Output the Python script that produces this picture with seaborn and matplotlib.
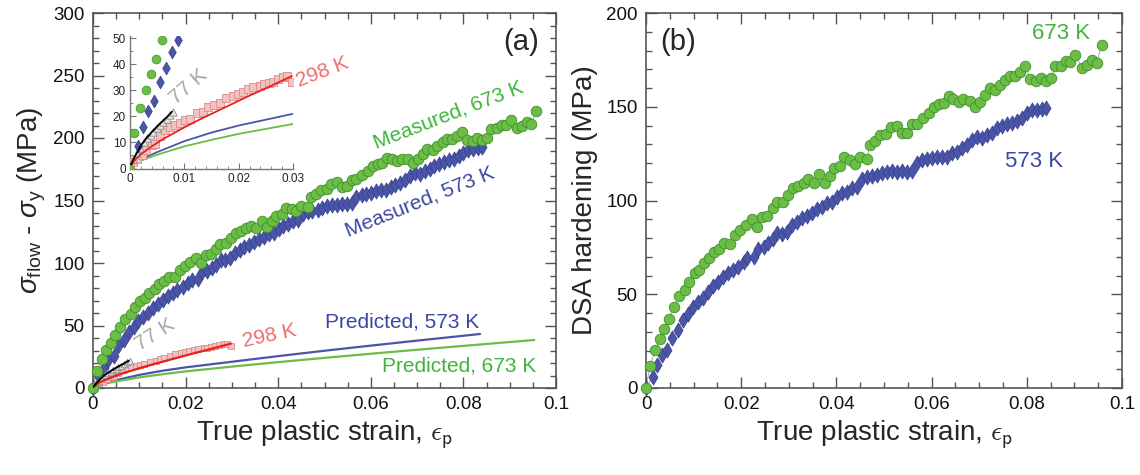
import numpy as np
import pandas as pd
import seaborn as sns
import matplotlib
matplotlib.use("Agg")
import matplotlib.pyplot as plt
from matplotlib.ticker import MultipleLocator, FuncFormatter

# ---------------- data ----------------
strain_673 = [0, 0.0008, 0.0019, 0.0029, 0.0038, 0.0048, 0.0059, 0.0070, 0.0081, 0.0091,
              0.0102, 0.0112, 0.0121, 0.0133, 0.0143, 0.0154, 0.0164, 0.0177, 0.0187, 0.0198,
              0.0210, 0.0222, 0.0233, 0.0243, 0.0254, 0.0266, 0.0275, 0.0287, 0.0298, 0.0308,
              0.0320, 0.0331, 0.0341, 0.0352, 0.0364, 0.0376, 0.0387, 0.0396, 0.0408, 0.0416,
              0.0429, 0.0439, 0.0450, 0.0464, 0.0471, 0.0481, 0.0492, 0.0505, 0.0514, 0.0527,
              0.0537, 0.0548, 0.0559, 0.0569, 0.0581, 0.0594, 0.0604, 0.0615, 0.0625, 0.0636,
              0.0646, 0.0657, 0.0667, 0.0680, 0.0692, 0.0702, 0.0713, 0.0722, 0.0734, 0.0744,
              0.0755, 0.0765, 0.0776, 0.0786, 0.0797, 0.0807, 0.0820, 0.0830, 0.0841, 0.0851,
              0.0860, 0.0872, 0.0883, 0.0891, 0.0902, 0.0916, 0.0926, 0.0937, 0.0947, 0.0957]
dsa_673 = [0, 11.6, 20.1, 26.4, 31.7, 37.0, 43.3, 49.0, 52.2, 56.6,
           61.1, 62.9, 66.8, 69.1, 72.7, 74.4, 77.5, 76.6, 81.6, 84.2,
           86.9, 89.9, 85.7, 91.4, 91.7, 95.8, 99.4, 99.4, 102.9, 106.5,
           107.9, 109.5, 111.5, 109.2, 114.0, 109.2, 113.3, 117.5, 118.6, 123.1,
           121.6, 119.5, 123.1, 122.0, 129.6, 132.0, 135.0, 135.4, 139.1, 139.8,
           135.9, 135.9, 140.9, 140.9, 143.9, 146.6, 150.1, 151.6, 151.9, 155.5,
           154.2, 152.8, 154.1, 153.3, 149.8, 152.3, 156.4, 159.9, 159.0, 161.7,
           164.4, 166.5, 166.2, 168.8, 171.5, 164.7, 163.5, 165.3, 163.9, 165.3,
           171.5, 171.9, 174.2, 173.8, 177.7, 170.6, 172.4, 175.1, 173.3, 183.1]
meas_673 = [0, 13.6, 23.1, 30.2, 36.1, 42.1, 49.2, 55.6, 59.5, 64.5,
            69.7, 72.0, 76.3, 79.2, 83.3, 85.6, 89.1, 88.8, 94.3, 97.4,
            100.6, 104.0, 100.3, 106.3, 107.1, 111.6, 115.6, 116.0, 119.9, 123.9,
            125.7, 127.7, 130.0, 128.1, 133.3, 128.9, 133.4, 138.0, 139.5, 144.2,
            143.2, 141.4, 145.4, 144.8, 152.6, 155.4, 158.7, 159.6, 163.6, 164.7,
            161.1, 161.5, 166.8, 167.2, 170.6, 173.7, 177.5, 179.4, 180.0, 184.0,
            183.0, 181.9, 183.5, 183.2, 180.0, 182.9, 187.3, 191.1, 190.5, 193.5,
            196.6, 199.0, 199.0, 201.9, 204.9, 198.4, 197.6, 199.8, 198.7, 200.4,
            206.9, 207.7, 210.3, 210.2, 214.4, 207.8, 209.9, 213.0, 211.5, 221.6]

strain_573 = [0, 0.0014, 0.0024, 0.0033, 0.0045, 0.0055, 0.0067, 0.0077, 0.0088, 0.0098,
              0.0109, 0.0119, 0.0130, 0.0140, 0.0151, 0.0161, 0.0172, 0.0182, 0.0194, 0.0205,
              0.0213, 0.0226, 0.0236, 0.0247, 0.0257, 0.0266, 0.0276, 0.0285, 0.0296, 0.0306,
              0.0317, 0.0327, 0.0338, 0.0348, 0.0359, 0.0369, 0.0380, 0.0390, 0.0401, 0.0411,
              0.0422, 0.0432, 0.0443, 0.0453, 0.0464, 0.0474, 0.0485, 0.0495, 0.0506, 0.0516,
              0.0527, 0.0537, 0.0548, 0.0559, 0.0569, 0.0580, 0.0590, 0.0601, 0.0611, 0.0622,
              0.0632, 0.0643, 0.0653, 0.0664, 0.0674, 0.0685, 0.0695, 0.0706, 0.0716, 0.0727,
              0.0737, 0.0748, 0.0758, 0.0769, 0.0779, 0.0790, 0.0800, 0.0811, 0.0821, 0.0832,
              0.0841]
dsa_573 = [0, 5.9, 12.1, 17.5, 20.1, 26.7, 30.8, 36.2, 39.7, 43.3,
           46.0, 48.1, 51.3, 54.3, 56.6, 59.3, 61.4, 63.2, 64.6, 67.3,
           69.1, 70.0, 74.4, 75.3, 77.1, 79.3, 82.5, 81.9, 83.0, 86.9,
           88.7, 90.5, 91.7, 93.5, 95.3, 96.7, 98.5, 99.4, 102.1, 103.8,
           104.7, 106.5, 107.0, 111.3, 112.7, 113.1, 113.6, 114.5, 115.4, 115.8,
           115.4, 115.8, 115.4, 115.9, 119.9, 121.6, 122.0, 122.5, 123.1, 123.4,
           123.4, 125.2, 126.1, 127.9, 129.6, 132.3, 134.1, 133.2, 135.0, 136.2,
           138.6, 139.5, 140.9, 141.6, 142.5, 143.9, 146.6, 148.4, 148.4, 148.7,
           149.2]
meas_573 = [0, 8.5, 16.0, 22.2, 25.9, 33.4, 38.5, 44.8, 49.2, 53.6,
            57.1, 59.8, 63.8, 67.4, 70.5, 73.7, 76.4, 78.8, 80.8, 84.0,
            86.2, 87.6, 92.5, 93.9, 96.2, 98.8, 102.4, 102.2, 103.8, 108.2,
            110.5, 112.7, 114.4, 116.7, 119.0, 120.8, 123.1, 124.4, 127.6, 129.8,
            131.2, 133.4, 134.4, 139.1, 141.0, 141.8, 142.7, 144.1, 145.4, 146.3,
            146.3, 147.1, 147.2, 148.1, 152.6, 154.7, 155.5, 156.4, 157.4, 158.2,
            158.6, 160.8, 162.1, 164.4, 166.5, 169.6, 171.8, 171.3, 173.5, 175.1,
            177.9, 179.3, 181.1, 182.2, 183.5, 185.3, 188.4, 190.6, 191.0, 191.7,
            192.5]

pred573_strain = [0, 0.001, 0.002, 0.005, 0.01, 0.015, 0.02, 0.03, 0.04, 0.05, 0.06, 0.07, 0.0836]
pred573_val = [0.5, 2.4, 3.5, 6.3, 10.5, 13.8, 16.5, 21.0, 25.5, 29.8, 33.9, 37.9, 43.2]
pred673_strain = [0, 0.001, 0.002, 0.005, 0.01, 0.015, 0.02, 0.03, 0.04, 0.05, 0.06, 0.07, 0.08, 0.0953]
pred673_val = [0.5, 2.0, 3.0, 5.3, 8.5, 11.0, 13.3, 17.1, 20.7, 24.1, 27.4, 30.6, 33.7, 38.4]

fit298_strain = [0, 0.001, 0.002, 0.004, 0.006, 0.008, 0.010, 0.013, 0.016, 0.019, 0.022, 0.025, 0.0298]
fit298_val = [0.5, 3.5, 5.5, 8.5, 11.2, 13.5, 15.8, 19.0, 22.0, 25.0, 28.0, 30.8, 35.5]
data298_strain = [0.0006, 0.00135, 0.00215, 0.0030, 0.0040, 0.0046, 0.0055, 0.0065, 0.0074, 0.0083,
                  0.0092, 0.0101, 0.0111, 0.0124, 0.0135, 0.0144, 0.0154, 0.0166, 0.0177, 0.0189,
                  0.0198, 0.0208, 0.0218, 0.0227, 0.0239, 0.0247, 0.0255, 0.0263, 0.0272, 0.0282,
                  0.0289, 0.0298]
data298_val = [2.6, 3.8, 5.1, 7.1, 9.0, 9.6, 12.4, 14.7, 16.0, 16.7,
               17.6, 18.8, 19.2, 21.2, 21.8, 23.5, 24.4, 25.3, 26.9, 27.8,
               28.8, 29.5, 30.4, 31.2, 31.7, 32.4, 32.7, 33.3, 34.2, 35.3,
               35.6, 33.3]

fit77_strain = [0, 0.0005, 0.001, 0.002, 0.003, 0.004, 0.005, 0.006, 0.007, 0.0077]
fit77_val = [0.6, 3.0, 5.0, 8.8, 11.6, 14.0, 16.2, 18.2, 20.2, 21.8]
data77_strain = [0.0006, 0.0012, 0.0018, 0.0025, 0.0031, 0.0038, 0.0043, 0.0049, 0.0055, 0.0061,
                 0.0068, 0.0074, 0.0080]
data77_val = [3.8, 5.8, 7.7, 10.3, 11.9, 12.8, 14.1, 15.4, 16.7, 17.9, 19.2, 20.5, 21.8]

# ---------------- style ----------------
sns.set_style("ticks")
plt.rcParams['font.family'] = ['Liberation Sans', 'DejaVu Sans']
plt.rcParams['mathtext.fontset'] = 'custom'
plt.rcParams['mathtext.rm'] = 'Liberation Sans'
plt.rcParams['mathtext.it'] = 'Liberation Sans:italic'
plt.rcParams['mathtext.fallback'] = 'cm'

GREEN = '#6cbd45'
GREEN_E = '#3f8f2a'
GREEN_T = '#3db53d'
BLUE = '#4b55a8'
BLUE_E = '#363f8e'
BLUE_T = '#3b47a3'
PINK_F = '#f4c0c0'
PINK_E = '#d98c8c'
PINK_T = '#f26d6d'
RED = '#e8201e'
GRAY_T = '#a6a6a6'
FRAME = '#555555'

fig = plt.figure(figsize=(11.4, 4.75), dpi=100)
axa = fig.add_axes([93/1140, 1-388/475, (556-93)/1140, (388-13)/475])
axb = fig.add_axes([646/1140, 1-388/475, (1122-646)/1140, (388-13)/475])

fmt_x = FuncFormatter(lambda v, p: f'{v:g}')


def style_main(ax):
    ax.set_xlim(0, 0.1)
    ax.xaxis.set_major_locator(MultipleLocator(0.02))
    ax.xaxis.set_minor_locator(MultipleLocator(0.005))
    ax.yaxis.set_major_locator(MultipleLocator(50))
    ax.yaxis.set_minor_locator(MultipleLocator(10))
    ax.xaxis.set_major_formatter(fmt_x)
    ax.tick_params(which='both', direction='in', top=True, right=True,
                   color=FRAME, width=1.0, labelsize=13.5, labelcolor='#111111')
    ax.tick_params(which='major', length=8, pad=6)
    ax.tick_params(which='minor', length=4)
    for s in ax.spines.values():
        s.set_color(FRAME)
        s.set_linewidth(1.2)
    ax.set_xlabel(r'True plastic strain, $\epsilon_{\mathsf{p}}$', fontsize=20, labelpad=4,
                  math_fontfamily='cm')


def connect(ax, x, y, z=2):
    sns.lineplot(x=x, y=y, ax=ax, color='#9a9a9a', lw=0.6, sort=False,
                 estimator=None, zorder=z)


# ---------------- panel (a) ----------------
sns.lineplot(x=pred573_strain, y=pred573_val, ax=axa, color=BLUE, lw=1.6, estimator=None, zorder=3)
sns.lineplot(x=pred673_strain, y=pred673_val, ax=axa, color=GREEN, lw=1.6, estimator=None, zorder=3)
connect(axa, strain_673, meas_673)
connect(axa, strain_573, meas_573)
sns.scatterplot(x=strain_573, y=meas_573, ax=axa, marker='d', s=60, color=BLUE,
                edgecolor=BLUE_E, linewidth=0.5, zorder=4, clip_on=False)
sns.scatterplot(x=strain_673, y=meas_673, ax=axa, marker='o', s=58, color=GREEN,
                edgecolor=GREEN_E, linewidth=0.6, zorder=5, clip_on=False)
sns.scatterplot(x=data298_strain, y=data298_val, ax=axa, marker='s', s=22, color=PINK_F,
                edgecolor=PINK_E, linewidth=0.6, zorder=4)
sns.lineplot(x=fit298_strain, y=fit298_val, ax=axa, color=RED, lw=1.6, estimator=None, zorder=6)
sns.scatterplot(x=data77_strain, y=data77_val, ax=axa, marker='^', s=22, color='#e6e6e6',
                edgecolor='#8a8a8a', linewidth=0.6, zorder=4)
sns.lineplot(x=fit77_strain, y=fit77_val, ax=axa, color='black', lw=1.4, estimator=None, zorder=6)
style_main(axa)
axa.set_ylim(0, 300)
axa.set_ylabel(r'$\sigma_{\mathrm{flow}}$ - $\sigma_{\mathrm{y}}$ (MPa)', fontsize=20, labelpad=4)

axa.text(0.0925, 277, '(a)', fontsize=21, ha='center', va='center')
axa.text(0.0768, 218, 'Measured, 673 K', fontsize=15, color=GREEN_T, rotation=21,
         ha='center', va='center')
axa.text(0.0705, 149, 'Measured, 573 K', fontsize=15, color=BLUE_T, rotation=22,
         ha='center', va='center')
axa.text(0.0668, 52.5, 'Predicted, 573 K', fontsize=15, color=BLUE_T, ha='center', va='center')
axa.text(0.0791, 17.5, 'Predicted, 673 K', fontsize=15, color=GREEN_T, ha='center', va='center')
axa.text(0.0382, 42.0, '298 K', fontsize=15, color=PINK_T, rotation=12, ha='center', va='center')
axa.text(0.0134, 42.5, '77 K', fontsize=15, color=GRAY_T, rotation=33, ha='center', va='center')

# inset
axi = fig.add_axes([130/1140, 1-168.5/475, (293-130)/1140, (168.5-35.7)/475])
axi.set_facecolor('none')
sns.lineplot(x=pred573_strain, y=pred573_val, ax=axi, color=BLUE, lw=1.3, estimator=None, zorder=3)
sns.lineplot(x=pred673_strain, y=pred673_val, ax=axi, color=GREEN, lw=1.3, estimator=None, zorder=3)
sns.scatterplot(x=data298_strain, y=data298_val, ax=axi, marker='s', s=26, color=PINK_F,
                edgecolor=PINK_E, linewidth=0.6, zorder=4)
sns.lineplot(x=fit298_strain, y=fit298_val, ax=axi, color=RED, lw=1.3, estimator=None, zorder=6)
sns.scatterplot(x=data77_strain, y=data77_val, ax=axi, marker='^', s=28, color='#e6e6e6',
                edgecolor='#8a8a8a', linewidth=0.6, zorder=4)
sns.lineplot(x=fit77_strain, y=fit77_val, ax=axi, color='black', lw=1.3, estimator=None, zorder=6)
sns.scatterplot(x=strain_573, y=meas_573, ax=axi, marker='d', s=42, color=BLUE,
                edgecolor=BLUE_E, linewidth=0.5, zorder=5)
sns.scatterplot(x=strain_673, y=meas_673, ax=axi, marker='o', s=40, color=GREEN,
                edgecolor=GREEN_E, linewidth=0.5, zorder=7)
axi.set_xlim(0, 0.03)
axi.set_ylim(0, 51)
axi.xaxis.set_major_locator(MultipleLocator(0.01))
axi.xaxis.set_minor_locator(MultipleLocator(0.002))
axi.yaxis.set_major_locator(MultipleLocator(10))
axi.yaxis.set_minor_locator(MultipleLocator(5))
axi.xaxis.set_major_formatter(fmt_x)
axi.tick_params(which='both', direction='in', color='#777777', labelsize=8.5, pad=3,
                labelcolor='#222222')
axi.tick_params(which='major', length=4)
axi.tick_params(which='minor', length=2.5)
axi.spines['top'].set_visible(False)
axi.spines['right'].set_visible(False)
for s in ('left', 'bottom'):
    axi.spines[s].set_color('#777777')
    axi.spines[s].set_linewidth(1.0)
axi.set_xlabel('')
axi.set_ylabel('')
axi.text(0.0355, 37.0, '298 K', fontsize=15, color=PINK_T, rotation=21, ha='center', va='center',
         clip_on=False)
axi.text(0.0108, 31.5, '77 K', fontsize=15, color=GRAY_T, rotation=41, ha='center', va='center')

# ---------------- panel (b) ----------------
connect(axb, strain_673, dsa_673)
connect(axb, strain_573, dsa_573)
sns.scatterplot(x=strain_573, y=dsa_573, ax=axb, marker='d', s=60, color=BLUE,
                edgecolor=BLUE_E, linewidth=0.5, zorder=4, clip_on=False)
sns.scatterplot(x=strain_673, y=dsa_673, ax=axb, marker='o', s=58, color=GREEN,
                edgecolor=GREEN_E, linewidth=0.6, zorder=5, clip_on=False)
style_main(axb)
axb.set_ylim(0, 200)
axb.set_ylabel('DSA hardening (MPa)', fontsize=20, labelpad=6)
axb.text(0.0068, 184.5, '(b)', fontsize=21, ha='center', va='center')
axb.text(0.0873, 189, '673 K', fontsize=16, color=GREEN_T, ha='center', va='center')
axb.text(0.0816, 121, '573 K', fontsize=16, color=BLUE_T, ha='center', va='center')

fig.savefig('out.png', dpi=100)
